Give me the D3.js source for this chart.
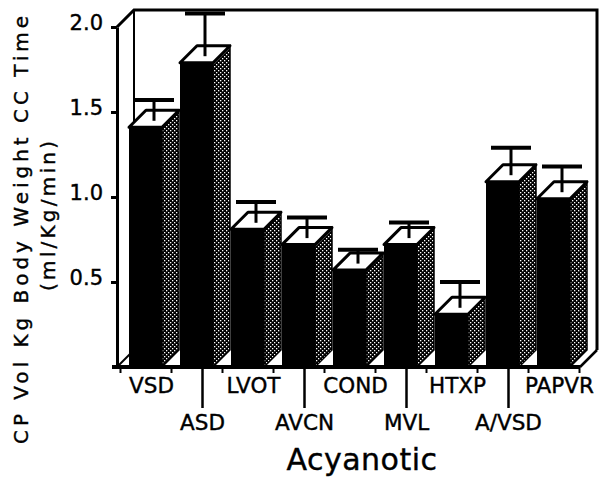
<!DOCTYPE html>
<html>
<head>
<meta charset="utf-8">
<script src="https://cdn.jsdelivr.net/npm/d3@7"></script>
<style>
  html, body { margin: 0; padding: 0; background: #fff; }
  svg { display: block; }
  text { font-family: "DejaVu Sans", Verdana, sans-serif; fill: #000; stroke: #000; stroke-width: 0.4px; }
</style>
</head>
<body>
<svg id="chart" width="610" height="480"></svg>
<script>
// ---- data ----
const categories = ["VSD", "ASD", "LVOT", "AVCN", "COND", "MVL", "HTXP", "A/VSD", "PAPVR"];
const means      = [1.41, 1.79, 0.81, 0.72, 0.57, 0.72, 0.31, 1.09, 0.99];
const errors     = [0.11, 0.24, 0.11, 0.11, 0.07, 0.08, 0.14, 0.15, 0.14];
const labelRow   = [0, 1, 0, 1, 0, 1, 0, 1, 0];
const yTicks     = [0.5, 1.0, 1.5, 2.0];
const yTitle1    = "CP Vol Kg Body Weight CC Time";
const yTitle2    = "(ml/Kg/min)";
const xTitle     = "Acyanotic";

const data = categories.map((c, i) => ({ cat: c, v: means[i], e: errors[i], row: labelRow[i] }));

// ---- layout ----
const svg = d3.select("#chart");
const DX = 17, DY = 17;             // 3-D depth offset
const axisX = 117;
const y = d3.scaleLinear().domain([0, 2]).range([367, 27]);
const x = d3.scaleBand().domain(categories).range([129, 588]).paddingInner(0).paddingOuter(0);
const bw = x.bandwidth();
const fw = bw - DX - 1;             // front face width

// stipple pattern for side faces
const defs = svg.append("defs");
const pat = defs.append("pattern").attr("id", "stip").attr("patternUnits", "userSpaceOnUse")
  .attr("width", 4).attr("height", 4);
pat.append("rect").attr("width", 4).attr("height", 4).attr("fill", "#000");
pat.append("rect").attr("x", 0).attr("y", 0).attr("width", 1.3).attr("height", 1.3).attr("fill", "#fff");
pat.append("rect").attr("x", 2).attr("y", 2).attr("width", 1.3).attr("height", 1.3).attr("fill", "#fff");

const y0 = y(0), yTop = y(2);
const xRightFront = x.range()[1] - 8;  // front right corner of floor

// back wall frame
const frame = svg.append("g").attr("stroke", "#000").attr("fill", "none");
frame.append("path").attr("stroke-width", 3)
  .attr("d", `M${axisX},${yTop} L${axisX + DX},${yTop - DY} L${xRightFront + DX},${yTop - DY} L${xRightFront + DX},${y0 - DY}`);
frame.append("path").attr("stroke-width", 2)
  .attr("d", `M${axisX + DX},${yTop - DY} L${axisX + DX},${y0 - DY}`);
frame.append("path").attr("stroke-width", 2)
  .attr("d", `M${axisX},${y0} L${axisX + DX},${y0 - DY}`);
frame.append("path").attr("stroke-width", 2.5)
  .attr("d", `M${xRightFront},${y0} L${xRightFront + DX},${y0 - DY}`);

// bars
const bars = svg.append("g").selectAll("g").data(data).join("g");
bars.append("path")   // side
  .attr("fill", "url(#stip)").attr("stroke", "#000").attr("stroke-width", 1.5)
  .attr("d", d => {
    const x0 = x(d.cat) + fw, yt = y(d.v);
    return `M${x0},${yt} L${x0 + DX},${yt - DY} L${x0 + DX},${y0 - DY} L${x0},${y0} Z`;
  });
bars.append("rect")   // front
  .attr("fill", "#000")
  .attr("x", d => x(d.cat)).attr("y", d => y(d.v))
  .attr("width", fw).attr("height", d => y0 - y(d.v));
bars.append("path")   // top
  .attr("fill", "#fff").attr("stroke", "#000").attr("stroke-width", 3).attr("stroke-linejoin", "round")
  .attr("d", d => {
    const x0 = x(d.cat), yt = y(d.v);
    return `M${x0},${yt} L${x0 + DX},${yt - DY} L${x0 + fw + DX},${yt - DY} L${x0 + fw},${yt} Z`;
  });

// error bars
const eb = svg.append("g").attr("stroke", "#000").selectAll("g").data(data).join("g");
const cxOf = d => x(d.cat) + (fw + DX) / 2;
eb.append("line").attr("stroke-width", 3)
  .attr("x1", cxOf).attr("x2", cxOf)
  .attr("y1", d => y(d.v) - DY / 2 + 2).attr("y2", d => y(d.v + d.e) - DY / 2);
eb.append("line").attr("stroke-width", 4)
  .attr("x1", d => cxOf(d) - 20).attr("x2", d => cxOf(d) + 20)
  .attr("y1", d => y(d.v + d.e) - DY / 2).attr("y2", d => y(d.v + d.e) - DY / 2);

// y axis
const yAxis = svg.append("g").attr("transform", `translate(${axisX},0)`)
  .call(d3.axisLeft(y).tickValues(yTicks).tickSize(6).tickSizeOuter(0).tickPadding(8)
    .tickFormat(d3.format(".1f")));
yAxis.select(".domain").attr("stroke-width", 3);
yAxis.selectAll(".tick line").attr("stroke-width", 3);
yAxis.selectAll(".tick text").style("font-size", "21px").attr("font-family", null).attr("dy", "0.12em");

// floor base line
svg.append("line").attr("stroke", "#000").attr("stroke-width", 4)
  .attr("x1", axisX - 5).attr("x2", xRightFront).attr("y1", y0).attr("y2", y0);

// short ticks under base
const tickPos = d3.range(categories.length + 1).map(i => (i < categories.length ? x(categories[i]) : x.range()[1]) - DX / 2);
svg.append("g").selectAll("line").data(tickPos).join("line")
  .attr("stroke", "#000").attr("stroke-width", 2)
  .attr("x1", d => d).attr("x2", d => d).attr("y1", y0).attr("y2", y0 + 6);

// category labels
const lab = svg.append("g").selectAll("g").data(data).join("g");
lab.filter(d => d.row === 1).append("line")
  .attr("stroke", "#000").attr("stroke-width", 2.5)
  .attr("x1", d => x(d.cat) + bw / 2 - 3).attr("x2", d => x(d.cat) + bw / 2 - 3)
  .attr("y1", y0).attr("y2", y0 + 41);
lab.append("text")
  .attr("x", d => x(d.cat) + bw / 2 - 3)
  .attr("y", d => d.row === 0 ? 393 : 430)
  .attr("text-anchor", "middle")
  .style("font-size", "21.5px")
  .text(d => d.cat);

// axis titles
svg.append("text")
  .attr("transform", "translate(28,230) rotate(-90)")
  .attr("text-anchor", "middle").style("font-size", "20px")
  .attr("textLength", 428).attr("lengthAdjust", "spacing")
  .text(yTitle1);
svg.append("text")
  .attr("transform", "translate(55,216) rotate(-90)")
  .attr("text-anchor", "middle").style("font-size", "20px")
  .attr("textLength", 150).attr("lengthAdjust", "spacing")
  .text(yTitle2);
svg.append("text")
  .attr("x", 362).attr("y", 470)
  .attr("text-anchor", "middle").style("font-size", "30px").style("letter-spacing", "0.5px")
  .text(xTitle);
</script>
</body>
</html>
